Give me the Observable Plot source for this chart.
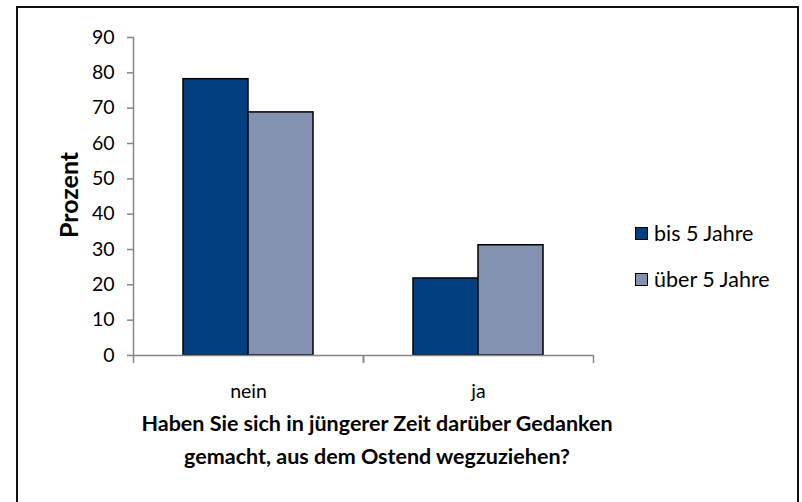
<!DOCTYPE html>
<html>
<head>
<meta charset="utf-8">
<script src="https://cdn.jsdelivr.net/npm/d3@7"></script>
<script src="https://cdn.jsdelivr.net/npm/@observablehq/plot@0.6"></script>
<style>
  body { margin: 0; background: #fff; font-family: Lato, "Open Sans", sans-serif; }
  #wrap { position: relative; width: 802px; height: 502px; overflow: hidden; }
  #border { position: absolute; left: 16px; top: 6px; width: 783px; height: 520px; border: 2px solid #111; box-sizing: border-box; }
  #chart { position: absolute; left: 0; top: 0; }
  #ylabel { position: absolute; left: 68px; top: 195px; transform: translate(-50%, -50%) rotate(-90deg); font-weight: bold; font-size: 25px; white-space: nowrap; color: #000; }
  #title { position: absolute; left: 377px; top: 407px; transform: translateX(-50%); font-weight: bold; font-size: 21.5px; text-align: center; line-height: 33px; white-space: nowrap; color: #000; }
  #legend { position: absolute; left: 635px; top: 221px; }
  #legend .item { display: flex; align-items: center; height: 24px; margin-bottom: 22px; font-size: 21.5px; color: #000; }
  #legend .sw { width: 11px; height: 11px; border: 1.5px solid #000; margin-right: 6px; }
  #chart svg g[aria-label="fx-axis tick label"] text { font-size: 19.5px; }
</style>
</head>
<body>
<div id="wrap">
  <div id="border"></div>
  <div id="chart"></div>
  <div id="ylabel"></div>
  <div id="title"></div>
  <div id="legend"></div>
</div>
<script>
const categories = ["nein", "ja"];
const series = ["bis 5 Jahre", "über 5 Jahre"];
const valuesBis = [78.2, 21.8];
const valuesUeber = [68.8, 31.2];
const colors = ["#023F7E", "#8591B1"];
const yTicks = [0, 10, 20, 30, 40, 50, 60, 70, 80, 90];
const yLabel = "Prozent";
const titleLines = ["Haben Sie sich in jüngerer Zeit darüber Gedanken", "gemacht, aus dem Ostend wegzuziehen?"];

const data = [];
categories.forEach((c, i) => {
  data.push({cat: c, series: series[0], value: valuesBis[i]});
  data.push({cat: c, series: series[1], value: valuesUeber[i]});
});

const W = 802, H = 502, mL = 133, mR = 209, mT = 37, mB = 147;
const half = (W - mL - mR) / categories.length / 2;
const axisGray = "#868686";

const plot = Plot.plot({
  width: W, height: H,
  marginLeft: mL, marginRight: mR, marginTop: mT, marginBottom: mB,
  style: {fontFamily: "Lato, 'Open Sans', sans-serif", fontSize: "19.5px", color: "#000", background: "transparent"},
  fx: {domain: categories, padding: 0, axis: null},
  x: {domain: series, paddingInner: 0, paddingOuter: 0.75, axis: null},
  y: {domain: [0, 90], axis: null},
  color: {domain: series, range: colors},
  marks: [
    Plot.barY(data, {fx: "cat", x: "series", y: "value", fill: "series", stroke: "#000", strokeWidth: 1.5}),
    Plot.ruleY([0], {stroke: axisGray, strokeWidth: 1.5}),
    Plot.frame({anchor: "left", stroke: axisGray, strokeWidth: 1.5, facetAnchor: "left"}),
    Plot.axisY({ticks: yTicks, tickSize: 6, tickPadding: 13, stroke: axisGray, strokeWidth: 1.5, fill: "#000", fontSize: 19.5, label: null, tickFormat: d => String(d)}),
    Plot.axisFx({anchor: "bottom", tickSize: 0, tickPadding: 29, fontSize: 19.5, label: null, fill: "#000"}),
    Plot.axisFx({anchor: "bottom", tickSize: 8, tickFormat: () => "", label: null, dx: -half, stroke: axisGray, strokeWidth: 1.5}),
    Plot.axisFx({anchor: "bottom", tickSize: 8, tickFormat: () => "", label: null, dx: half, stroke: axisGray, strokeWidth: 1.5})
  ]
});
document.getElementById("chart").appendChild(plot);

document.getElementById("ylabel").textContent = yLabel;
document.getElementById("title").innerHTML = titleLines.map(t => `<div>${t}</div>`).join("");
const leg = document.getElementById("legend");
series.forEach((s, i) => {
  const item = document.createElement("div");
  item.className = "item";
  const sw = document.createElement("div");
  sw.className = "sw";
  sw.style.background = colors[i];
  const lab = document.createElement("span");
  lab.textContent = s;
  item.appendChild(sw);
  item.appendChild(lab);
  leg.appendChild(item);
});
</script>
</body>
</html>
